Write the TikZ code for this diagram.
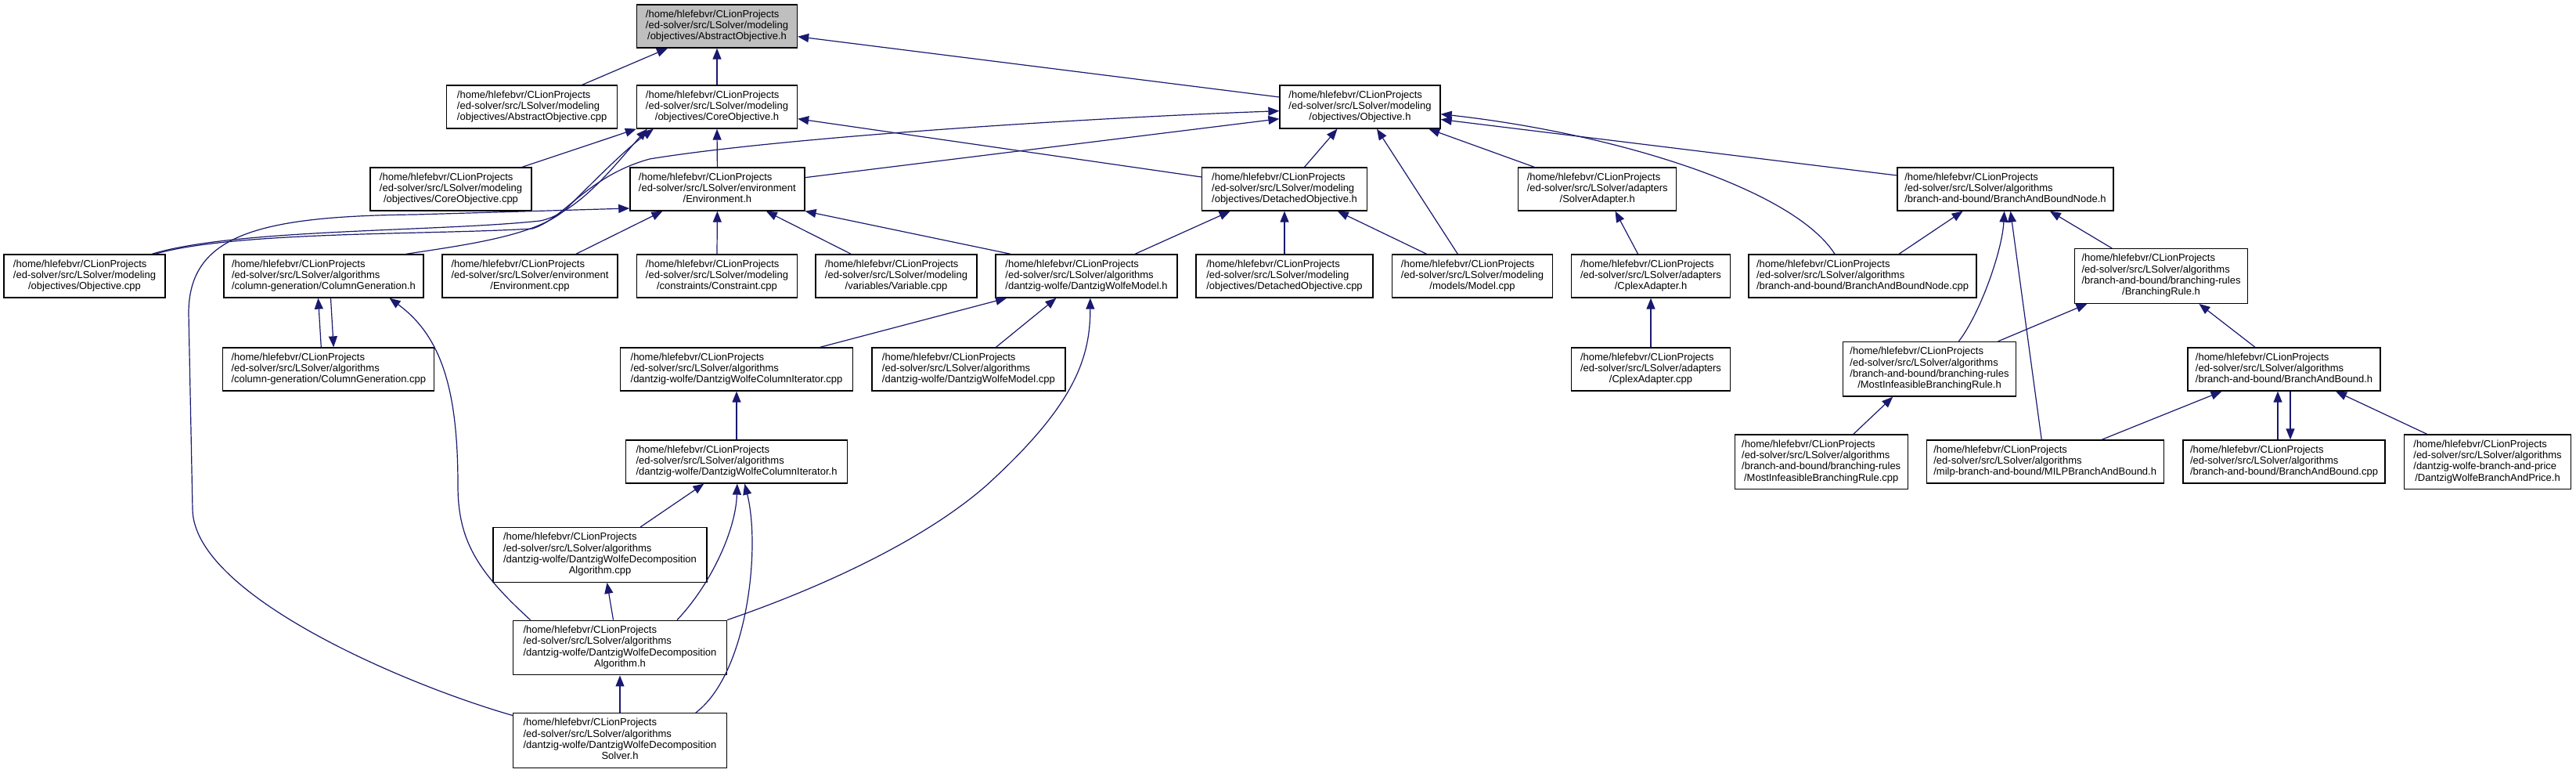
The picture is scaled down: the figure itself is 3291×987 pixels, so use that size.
\documentclass[tikz,border=0pt]{standalone}
\usepackage{fontspec}
\setmainfont{Liberation Sans}
\usetikzlibrary{arrows.meta}
\definecolor{edgecol}{HTML}{191970}
\definecolor{focusfill}{HTML}{BFBFBF}
\newcommand{\thr}[3]{\begin{tabular}{@{}l@{}}#1\\#2\\\multicolumn{1}{@{}c@{}}{#3}\end{tabular}}
\newcommand{\fou}[4]{\begin{tabular}{@{}l@{}}#1\\#2\\#3\\\multicolumn{1}{@{}c@{}}{#4}\end{tabular}}
\newcommand{\hp}{/home/hlefebvr/CLionProjects}
\newcommand{\lsm}{/ed-solver/src/LSolver/modeling}
\newcommand{\lsa}{/ed-solver/src/LSolver/algorithms}
\newcommand{\lse}{/ed-solver/src/LSolver/environment}
\newcommand{\lsd}{/ed-solver/src/LSolver/adapters}
\tikzset{
  box/.style={draw=black, line width=1.3pt, fill=white, inner sep=0pt, minimum height=55pt,
    font=\fontsize{13}{14.3}\selectfont},
  tall/.style={minimum height=69.6pt},
  inc/.style={draw=edgecol, line width=1.2pt, arrows={-Triangle[length=14pt,width=11pt]}}
}
\begin{document}
\begin{tikzpicture}[x=1pt,y=-1pt]
\useasboundingbox[fill=white] (0,0) rectangle (3291,987);
% nodes
\node[box, minimum width=205pt, fill=focusfill] (n1) at (916,33.5) {\thr{\hp}{\lsm}{/objectives/AbstractObjective.h}};
\node[box, minimum width=218pt] (n2) at (679.7,136.5) {\thr{\hp}{\lsm}{/objectives/AbstractObjective.cpp}};
\node[box, minimum width=205pt] (n3) at (916,136.5) {\thr{\hp}{\lsm}{/objectives/CoreObjective.h}};
\node[box, minimum width=205pt] (n4) at (1737.5,136.5) {\thr{\hp}{\lsm}{/objectives/Objective.h}};
\node[box, minimum width=206pt] (n5) at (576,241.5) {\thr{\hp}{\lsm}{/objectives/CoreObjective.cpp}};
\node[box, minimum width=223pt] (n6) at (916.4,241.5) {\thr{\hp}{\lse}{/Environment.h}};
\node[box, minimum width=211pt] (n7) at (1641,241.5) {\thr{\hp}{\lsm}{/objectives/DetachedObjective.h}};
\node[box, minimum width=202pt] (n8) at (2040.7,241.5) {\thr{\hp}{\lsd}{/SolverAdapter.h}};
\node[box, minimum width=276pt] (n9) at (2562,241.5) {\thr{\hp}{\lsa}{/branch-and-bound/BranchAndBoundNode.h}};
\node[box, minimum width=206pt] (n10) at (108,352.5) {\thr{\hp}{\lsm}{/objectives/Objective.cpp}};
\node[box, minimum width=255pt] (n11) at (413.5,352.5) {\thr{\hp}{\lsa}{/column-generation/ColumnGeneration.h}};
\node[box, minimum width=224pt] (n12) at (677,352.5) {\thr{\hp}{\lse}{/Environment.cpp}};
\node[box, minimum width=205pt] (n13) at (916,352.5) {\thr{\hp}{\lsm}{/constraints/Constraint.cpp}};
\node[box, minimum width=206pt] (n14) at (1145,352.5) {\thr{\hp}{\lsm}{/variables/Variable.cpp}};
\node[box, minimum width=232pt] (n15) at (1388,352.5) {\thr{\hp}{\lsa}{/dantzig-wolfe/DantzigWolfeModel.h}};
\node[box, minimum width=226pt] (n16) at (1641,352.5) {\thr{\hp}{\lsm}{/objectives/DetachedObjective.cpp}};
\node[box, minimum width=205pt] (n17) at (1881,352.5) {\thr{\hp}{\lsm}{/models/Model.cpp}};
\node[box, minimum width=203pt] (n18) at (2109,352.5) {\thr{\hp}{\lsd}{/CplexAdapter.h}};
\node[box, minimum width=291pt] (n19) at (2379.5,352.5) {\thr{\hp}{\lsa}{/branch-and-bound/BranchAndBoundNode.cpp}};
\node[box, tall, minimum width=221pt] (n20) at (2761,352.5) {\fou{\hp}{\lsa}{/branch-and-bound/branching-rules}{/BranchingRule.h}};
\node[box, minimum width=270pt] (n21) at (419.8,471.5) {\thr{\hp}{\lsa}{/column-generation/ColumnGeneration.cpp}};
\node[box, minimum width=297.5pt] (n22) at (941,471.5) {\thr{\hp}{\lsa}{/dantzig-wolfe/DantzigWolfeColumnIterator.cpp}};
\node[box, minimum width=247pt] (n23) at (1237.4,471.5) {\thr{\hp}{\lsa}{/dantzig-wolfe/DantzigWolfeModel.cpp}};
\node[box, minimum width=203pt] (n24) at (2109,471.5) {\thr{\hp}{\lsd}{/CplexAdapter.cpp}};
\node[box, tall, minimum width=221pt] (n25) at (2465,471.3) {\fou{\hp}{\lsa}{/branch-and-bound/branching-rules}{/MostInfeasibleBranchingRule.h}};
\node[box, minimum width=246pt] (n26) at (2918,471.5) {\thr{\hp}{\lsa}{/branch-and-bound/BranchAndBound.h}};
\node[box, minimum width=283pt] (n27) at (941,589.5) {\thr{\hp}{\lsa}{/dantzig-wolfe/DantzigWolfeColumnIterator.h}};
\node[box, tall, minimum width=221pt] (n28) at (2326.7,589.7) {\fou{\hp}{\lsa}{/branch-and-bound/branching-rules}{/MostInfeasibleBranchingRule.cpp}};
\node[box, minimum width=303pt] (n29) at (2612.7,589.5) {\thr{\hp}{\lsa}{/milp-branch-and-bound/MILPBranchAndBound.h}};
\node[box, minimum width=258pt] (n30) at (2918,589.5) {\thr{\hp}{\lsa}{/branch-and-bound/BranchAndBound.cpp}};
\node[box, tall, minimum width=213pt] (n31) at (3178,589.7) {\fou{\hp}{\lsa}{/dantzig-wolfe-branch-and-price}{/DantzigWolfeBranchAndPrice.h}};
\node[box, tall, minimum width=273pt] (n32) at (766.5,708.5) {\fou{\hp}{\lsa}{/dantzig-wolfe/DantzigWolfeDecomposition}{Algorithm.cpp}};
\node[box, tall, minimum width=273pt] (n33) at (792,827) {\fou{\hp}{\lsa}{/dantzig-wolfe/DantzigWolfeDecomposition}{Algorithm.h}};
\node[box, tall, minimum width=273pt] (n34) at (792,945.5) {\fou{\hp}{\lsa}{/dantzig-wolfe/DantzigWolfeDecomposition}{Solver.h}};
% edges (includer -> included)
\draw[inc] ([xshift=64pt]n2.north) -- ([xshift=-63pt]n1.south);
\draw[inc] (n3.north) -- (n1.south);
\draw[inc] ([yshift=12.5pt]n4.west) -- ([yshift=-13.2pt]n1.east);
\draw[inc] ([xshift=91pt]n5.north) -- (n3.south west);
\draw[inc] (n6.north) -- (n3.south);
\draw[inc] ([yshift=15.5pt]n7.west) -- ([yshift=-15.2pt]n3.east);
\draw[inc] ([yshift=14.8pt]n6.east) -- ([yshift=-15.2pt]n4.west);
\draw[inc] ([xshift=90pt]n10.north) .. controls (300,295) and (550,300) .. (680,292) .. controls (720,280) and (750,225) .. (830,203) .. controls (1000,175) and (1400,150) .. ([yshift=-5.2pt]n4.west);
\draw[inc] ([xshift=86pt]n10.north) .. controls (300,292) and (560,296) .. (690,282) .. controls (740,272) and (790,205) .. ([xshift=14pt]n3.south west);
\draw[inc] ([xshift=105pt]n11.north) .. controls (600,312) and (690,300) .. (725,265) .. controls (765,225) and (800,190) .. ([xshift=22pt]n3.south west);
\draw[inc] ([xshift=25.5pt]n7.north) -- ([xshift=-29pt]n4.south);
\draw[inc] ([xshift=-18.7pt]n17.north) -- ([xshift=21.5pt]n4.south);
\draw[inc] ([xshift=-80.4pt]n8.north) -- ([xshift=87.8pt]n4.south);
\draw[inc] ([xshift=-35.5pt]n19.north) .. controls (2290,240) and (2060,170) .. ([yshift=-9.2pt]n4.east);
\draw[inc] ([yshift=17.5pt]n9.west) -- ([yshift=-16pt]n4.east);
\draw[inc] (n16.north) -- (n7.south);
\draw[inc] ([xshift=62pt]n15.north) -- ([xshift=-69.3pt]n7.south);
\draw[inc] ([xshift=-58.4pt]n17.north) -- ([xshift=67.8pt]n7.south);
\draw[inc] ([xshift=-16.4pt]n18.north) -- ([xshift=22.8pt]n8.south);
\draw[inc] (n24.north) -- (n18.south);
\draw[inc] ([xshift=46.5pt]n19.north) -- ([xshift=-54.4pt]n9.south);
\draw[inc] ([xshift=-62.8pt]n20.north) -- ([xshift=56.8pt]n9.south);
\draw[inc] ([xshift=37.4pt]n25.north) .. controls (2530,400) and (2558,320) .. ([xshift=-1.4pt]n9.south);
\draw[inc] ([xshift=-4.5pt]n29.north) -- ([xshift=6.5pt]n9.south);
\draw[inc] ([xshift=87.6pt]n25.north) -- ([xshift=-94.5pt]n20.south);
\draw[inc] ([xshift=-37pt]n26.north) -- ([xshift=48.4pt]n20.south);
\draw[inc] ([xshift=41.2pt]n28.north) -- ([xshift=-46.8pt]n25.south);
\draw[inc] ([xshift=72.3pt]n29.north) -- ([xshift=-79.5pt]n26.south);
\draw[inc] ([xshift=-8pt]n30.north) -- ([xshift=-8pt]n26.south);
\draw[inc] ([xshift=8pt]n26.south) -- ([xshift=8pt]n30.north);
\draw[inc] ([xshift=-77.5pt]n31.north) -- ([xshift=66pt]n26.south);
\draw[inc] ([xshift=-9.5pt]n21.north) -- ([xshift=-7pt]n11.south);
\draw[inc] ([xshift=9pt]n11.south) -- ([xshift=6.4pt]n21.north);
\draw[inc] ([xshift=-114.4pt]n33.north) .. controls (610,730) and (585,690) .. (585,620) .. controls (585,500) and (565,430) .. ([xshift=84pt]n11.south);
\draw[inc] ([xshift=106.6pt]n22.north) -- ([xshift=-102pt]n15.south);
\draw[inc] ([xshift=35pt]n23.north) -- ([xshift=-38.6pt]n15.south);
\draw[inc] (n33.north east) .. controls (1050,750) and (1180,690) .. (1260,620) .. controls (1370,520) and (1393,460) .. ([xshift=4.8pt]n15.south);
\draw[inc] (n27.north) -- (n22.south);
\draw[inc] ([xshift=51.5pt]n32.north) -- ([xshift=-41.6pt]n27.south);
\draw[inc] ([xshift=73pt]n33.north) .. controls (905,750) and (940,680) .. ([xshift=0.8pt]n27.south);
\draw[inc] ([xshift=96.8pt]n34.north) .. controls (955,860) and (972,700) .. ([xshift=10.3pt]n27.south);
\draw[inc] ([xshift=-8.5pt]n33.north) -- ([xshift=9pt]n32.south);
\draw[inc] (n34.north) -- (n33.south);
\draw[inc] ([yshift=32pt]n34.west) .. controls (520,875) and (247,760) .. (246,650) -- (241,400) .. controls (241,300) and (330,276) .. (530,274) -- ([yshift=-24.5pt]n6.west);
\draw[inc] ([xshift=58.8pt]n12.north) -- ([xshift=-70pt]n6.south);
\draw[inc] (n13.north) -- (n6.south);
\draw[inc] ([xshift=-57.7pt]n14.north) -- ([xshift=62.4pt]n6.south);
\draw[inc] ([xshift=-96.8pt]n15.north) -- (n6.south east);
\end{tikzpicture}
\end{document}
